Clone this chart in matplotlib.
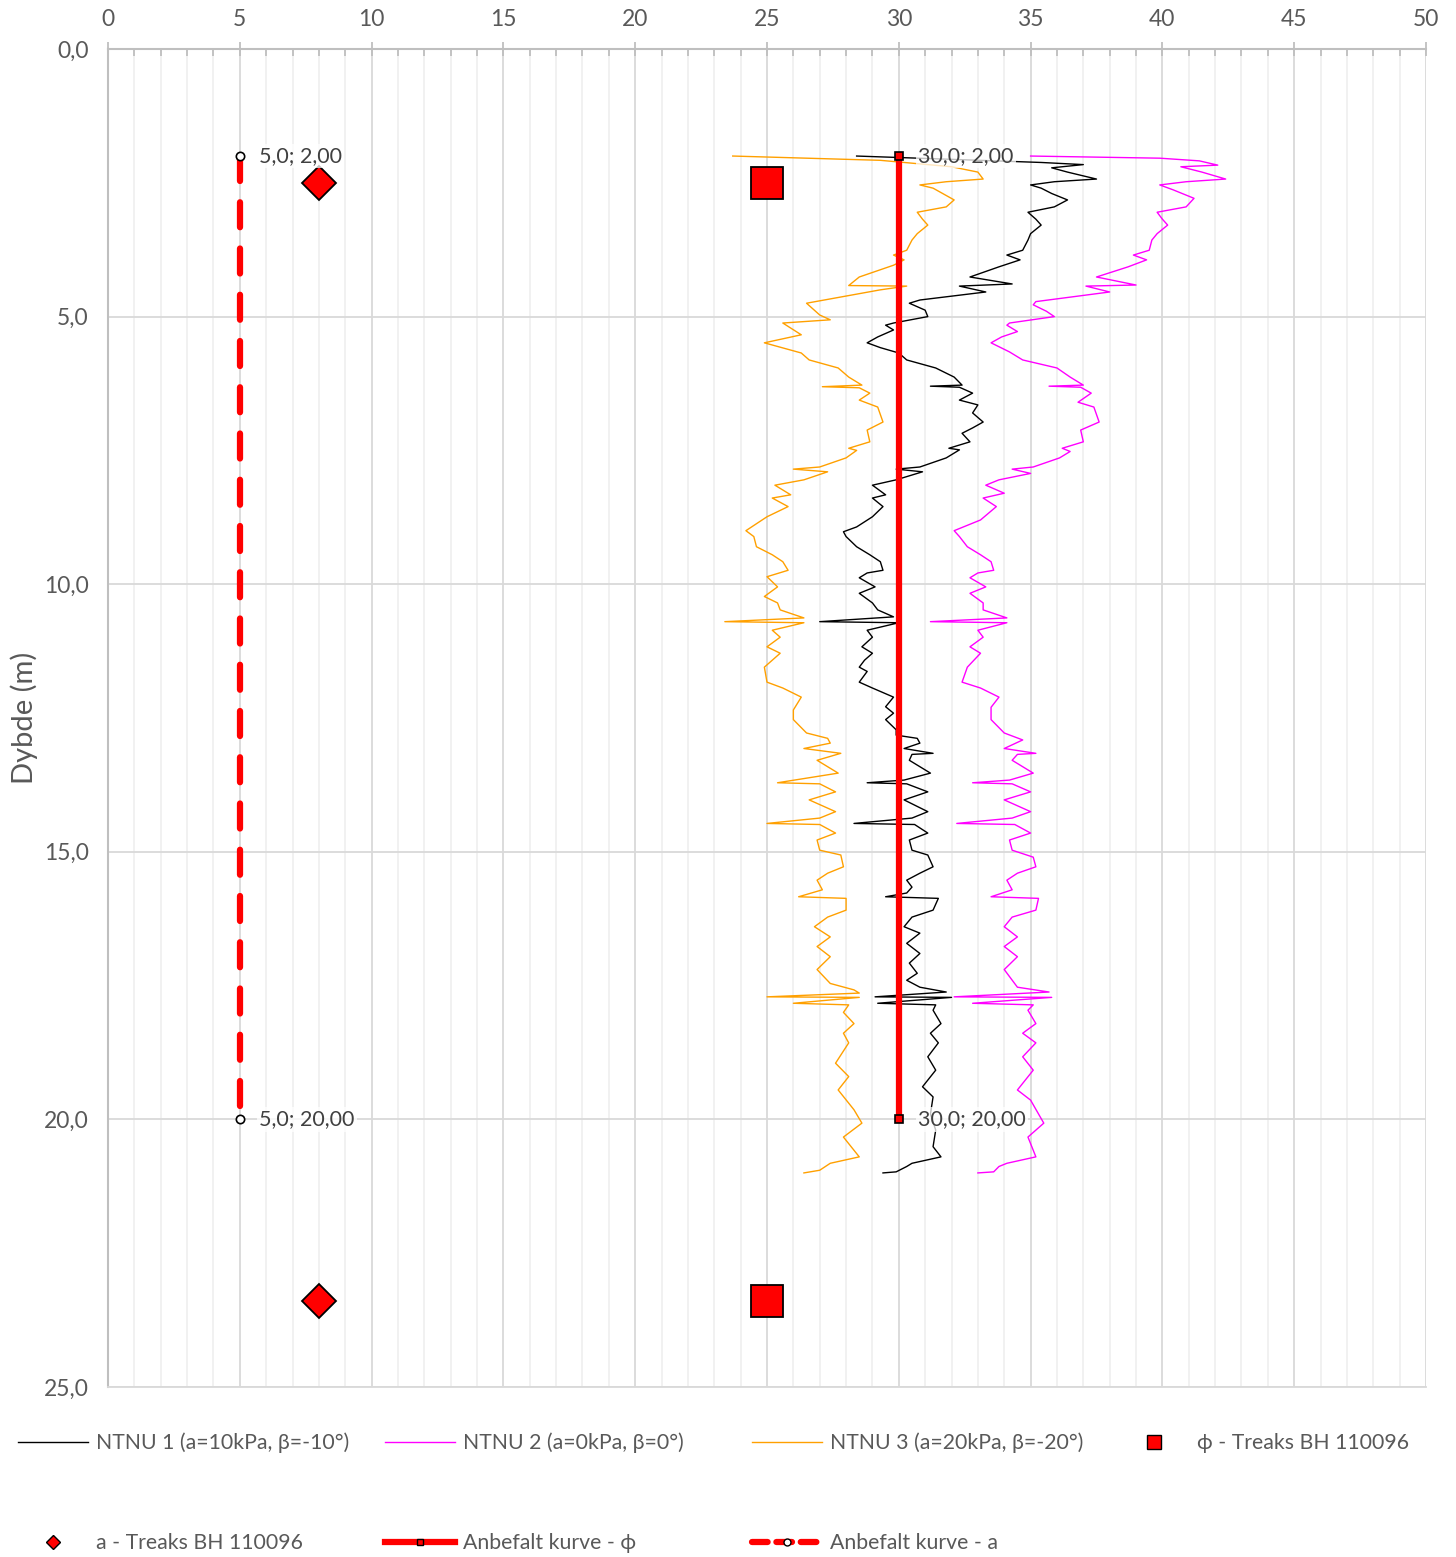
import matplotlib
matplotlib.use("Agg")
import matplotlib.pyplot as plt
from matplotlib.lines import Line2D
from matplotlib.ticker import MultipleLocator, FuncFormatter

plt.rcParams['font.family'] = ['Lato', 'DejaVu Sans']

# --- data ------------------------------------------------------------------
ntnu1_depth = [2.00, 2.12, 2.16, 2.22, 2.30, 2.43, 2.48, 2.54, 2.60, 2.70, 2.82, 2.95, 3.05, 3.18,
               3.29, 3.45, 3.57, 3.76, 3.85, 3.94, 4.07, 4.26, 4.39, 4.43, 4.54, 4.69, 4.75, 4.88,
               5.00, 5.12, 5.16, 5.25, 5.38, 5.49, 5.58, 5.68, 5.81, 5.96, 6.13, 6.28, 6.30, 6.32,
               6.43, 6.56, 6.65, 6.80, 6.97, 7.08, 7.18, 7.34, 7.46, 7.49, 7.64, 7.81, 7.85, 7.90,
               8.05, 8.15, 8.33, 8.39, 8.55, 8.74, 8.93, 9.02, 9.11, 9.30, 9.45, 9.58, 9.74, 9.79,
               9.88, 10.05, 10.17, 10.35, 10.48, 10.61, 10.70, 10.72, 10.86, 10.99, 11.17, 11.29,
               11.42, 11.55, 11.63, 11.83, 11.94, 12.11, 12.29, 12.41, 12.53, 12.72, 12.82, 12.88,
               12.97, 13.07, 13.16, 13.18, 13.29, 13.53, 13.66, 13.71, 13.73, 13.88, 14.03, 14.25,
               14.37, 14.47, 14.49, 14.65, 14.78, 14.97, 15.06, 15.28, 15.40, 15.53, 15.66, 15.77,
               15.84, 15.87, 16.09, 16.22, 16.40, 16.52, 16.71, 16.90, 17.08, 17.27, 17.40, 17.53,
               17.62, 17.71, 17.72, 17.83, 17.86, 17.96, 18.21, 18.39, 18.57, 18.83, 19.08, 19.39,
               19.58, 19.90, 20.20, 20.51, 20.70, 20.82, 20.88, 20.98, 21.00]
ntnu1_phi = [28.4, 35.4, 37.0, 35.8, 36.4, 37.5, 35.9, 35.0, 35.4, 35.8, 36.4, 35.9, 34.9, 35.2,
             35.4, 35.0, 34.9, 34.7, 34.1, 34.6, 33.8, 32.7, 34.3, 32.3, 33.3, 30.8, 30.4, 31.0,
             31.1, 29.8, 29.5, 29.8, 29.2, 28.8, 29.3, 30.0, 30.3, 31.4, 32.1, 32.4, 31.2, 32.3,
             32.8, 32.3, 33.0, 32.8, 33.2, 32.8, 32.4, 32.7, 31.9, 32.3, 31.8, 30.8, 29.9, 30.9,
             29.9, 29.0, 29.5, 29.0, 29.4, 29.0, 28.4, 27.9, 28.0, 28.4, 28.9, 29.3, 29.4, 28.8,
             28.5, 29.1, 28.5, 29.0, 29.2, 29.8, 27.0, 30.0, 28.8, 29.0, 28.6, 29.0,
             28.7, 28.5, 28.8, 28.5, 29.0, 29.8, 29.5, 29.8, 29.5, 29.9, 29.9, 30.7,
             30.8, 30.2, 31.3, 30.5, 30.4, 31.2, 30.2, 28.8, 30.3, 31.1, 30.2, 31.1,
             30.5, 28.3, 30.6, 31.1, 30.4, 30.5, 31.1, 31.3, 30.8, 30.3, 30.5, 30.3,
             29.5, 31.5, 31.3, 30.5, 30.2, 30.8, 30.3, 30.8, 30.4, 30.7, 30.3, 30.8,
             31.8, 29.1, 32.0, 29.2, 31.4, 31.3, 31.6, 31.2, 31.5, 31.1, 31.4, 30.9,
             31.3, 31.2, 31.4, 31.3, 31.6, 30.5, 30.3, 29.9, 29.4]

ntnu2_depth = [2.00, 2.04, 2.09, 2.17, 2.20, 2.30, 2.43, 2.48, 2.54, 2.63, 2.79, 2.95, 3.05, 3.18,
               3.29, 3.45, 3.57, 3.76, 3.85, 3.94, 4.07, 4.26, 4.41, 4.43, 4.54, 4.72, 4.78, 4.90,
               5.00, 5.12, 5.16, 5.28, 5.38, 5.49, 5.66, 5.81, 5.96, 6.13, 6.28, 6.30, 6.32, 6.43,
               6.60, 6.69, 6.97, 7.12, 7.34, 7.46, 7.52, 7.64, 7.81, 7.85, 7.93, 8.05, 8.15, 8.30,
               8.39, 8.55, 8.80, 9.00, 9.11, 9.30, 9.45, 9.58, 9.74, 9.79, 9.88, 10.05, 10.17,
               10.35, 10.48, 10.63, 10.70, 10.72, 10.86, 10.99, 11.17, 11.29, 11.55, 11.83, 11.94,
               12.11, 12.30, 12.53, 12.78, 12.91, 13.07, 13.16, 13.18, 13.29, 13.53, 13.66, 13.71,
               13.73, 13.88, 14.03, 14.25, 14.37, 14.47, 14.49, 14.65, 14.78, 14.97, 15.10, 15.28,
               15.40, 15.53, 15.71, 15.84, 15.87, 16.09, 16.22, 16.40, 16.59, 16.77, 16.96, 17.20,
               17.40, 17.53, 17.62, 17.71, 17.72, 17.83, 17.86, 17.96, 18.21, 18.39, 18.57, 18.83,
               19.08, 19.45, 19.64, 20.07, 20.33, 20.70, 20.82, 20.88, 20.98, 21.00]
ntnu2_phi = [35.0, 39.9, 41.4, 42.1, 40.7, 41.5, 42.4, 40.9, 39.9, 40.4, 41.2, 40.9, 39.8, 40.0,
             40.2, 39.8, 39.6, 39.5, 38.9, 39.4, 38.7, 37.5, 39.0, 37.1, 38.0, 35.2, 35.1, 35.6,
             35.9, 34.2, 34.1, 34.5, 33.9, 33.5, 34.2, 34.7, 36.0, 36.5, 37.0, 35.7, 36.9, 37.3,
             36.8, 37.4, 37.6, 36.9, 37.0, 36.2, 36.5, 36.1, 35.1, 34.3, 35.0, 33.8, 33.3, 34.0,
             33.2, 33.7, 33.1, 32.1, 32.3, 32.6, 33.1, 33.5, 33.6, 33.0, 32.7, 33.3, 32.7,
             33.2, 33.2, 34.1, 31.2, 34.1, 33.0, 33.2, 32.7, 33.1, 32.6, 32.4, 33.1,
             33.8, 33.5, 33.5, 34.0, 34.7, 34.0, 35.2, 34.5, 34.3, 35.1, 34.2, 32.8,
             34.3, 35.0, 34.0, 35.0, 34.3, 32.2, 34.4, 35.0, 34.2, 34.3, 35.1, 35.2,
             34.5, 34.1, 34.3, 33.5, 35.3, 35.2, 34.3, 34.0, 34.5, 34.0, 34.5, 34.0,
             34.3, 34.5, 35.7, 32.1, 35.8, 32.8, 35.1, 34.9, 35.2, 34.7, 35.2, 34.7,
             35.1, 34.5, 35.0, 35.5, 34.9, 35.2, 34.1, 33.8, 33.6, 33.0]

ntnu3_depth = [2.00, 2.08, 2.20, 2.30, 2.43, 2.48, 2.54, 2.60, 2.82, 2.95, 3.05, 3.18, 3.29, 3.45,
               3.57, 3.76, 3.85, 3.94, 4.04, 4.26, 4.42, 4.43, 4.50, 4.75, 4.97, 5.06, 5.12, 5.34,
               5.49, 5.68, 5.81, 5.96, 6.13, 6.28, 6.31, 6.33, 6.43, 6.56, 6.69, 6.97, 7.12, 7.34,
               7.46, 7.50, 7.64, 7.81, 7.85, 7.90, 8.05, 8.15, 8.33, 8.39, 8.55, 8.74, 9.00, 9.11,
               9.30, 9.45, 9.58, 9.74, 9.86, 10.05, 10.23, 10.35, 10.48, 10.63, 10.70, 10.72, 10.86,
               10.99, 11.17, 11.29, 11.55, 11.83, 11.94, 12.11, 12.35, 12.53, 12.78, 12.88, 12.97,
               13.07, 13.16, 13.29, 13.53, 13.71, 13.73, 13.88, 14.03, 14.25, 14.37, 14.47, 14.49,
               14.65, 14.78, 14.97, 15.06, 15.28, 15.40, 15.53, 15.71, 15.84, 15.87, 16.09, 16.22,
               16.40, 16.59, 16.77, 16.96, 17.20, 17.46, 17.58, 17.64, 17.71, 17.72, 17.83, 17.86,
               18.00, 18.21, 18.39, 18.57, 18.95, 19.20, 19.45, 19.82, 20.07, 20.33, 20.70, 20.82,
               20.95, 21.00]
ntnu3_phi = [23.7, 29.3, 32.0, 33.0, 33.2, 31.8, 30.8, 31.3, 32.1, 31.8, 30.7, 30.9, 31.1, 30.7,
             30.5, 30.3, 29.8, 30.2, 29.8, 28.5, 28.1, 30.3, 29.3, 26.5, 27.0, 27.4, 25.6, 26.3,
             24.9, 26.3, 26.6, 27.7, 28.1, 28.6, 27.1, 28.5, 28.9, 28.5, 29.2, 29.4, 28.8, 28.9,
             28.1, 28.4, 28.0, 27.0, 26.0, 27.3, 26.4, 25.3, 25.9, 25.2, 25.8, 25.0, 24.2, 24.5,
             24.6, 25.2, 25.6, 25.8, 25.0, 25.4, 24.9, 25.4, 25.5, 26.4, 23.4, 26.4, 25.2,
             25.5, 25.0, 25.5, 24.9, 25.0, 25.6, 26.3, 26.0, 26.0, 26.5, 27.3, 27.4,
             26.4, 27.8, 26.9, 27.7, 25.4, 27.0, 27.6, 26.6, 27.6, 27.0, 25.0, 27.0,
             27.6, 26.9, 27.0, 27.8, 27.9, 27.3, 26.9, 27.1, 26.2, 28.0, 28.0, 27.3,
             26.8, 27.4, 26.9, 27.4, 26.9, 27.4, 28.3, 28.5, 25.0, 28.5, 26.0, 28.1,
             27.9, 28.3, 27.9, 28.1, 27.6, 28.1, 27.7, 28.3, 28.6, 27.9, 28.5, 27.4,
             27.0, 26.4]

treaks_depth = [2.5, 23.4]
treaks_phi = [25.0, 25.0]
treaks_a = [8.0, 8.0]

anbefalt_depth = [2.0, 20.0]
anbefalt_phi = [30.0, 30.0]
anbefalt_a = [5.0, 5.0]

labels = ["NTNU 1 (a=10kPa, β=-10°)", "NTNU 2 (a=0kPa, β=0°)", "NTNU 3 (a=20kPa, β=-20°)",
          "ϕ - Treaks BH 110096", "a - Treaks BH 110096", "Anbefalt kurve - ϕ", "Anbefalt kurve - a"]

# --- figure ------------------------------------------------------------------
txt = '#595959'
fig = plt.figure(figsize=(14.56, 15.57), dpi=100)
ax = fig.add_axes([108 / 1456, 1 - 1387 / 1557, 1318 / 1456, 1338 / 1557])

ax.plot(ntnu1_phi, ntnu1_depth, color='black', lw=1.0, zorder=3)
ax.plot(ntnu2_phi, ntnu2_depth, color='#ff00ff', lw=1.0, zorder=3)
ax.plot(ntnu3_phi, ntnu3_depth, color='#ffa000', lw=1.0, zorder=3)
ax.plot(treaks_phi, treaks_depth, ls='none', marker='s', ms=23, mfc='red', mec='black', mew=1.3, zorder=4)
ax.plot(treaks_a, treaks_depth, ls='none', marker='D', ms=17, mfc='red', mec='black', mew=1.3, zorder=4)
ax.plot(anbefalt_phi, anbefalt_depth, color='red', lw=4.5, marker='s', ms=6,
        mfc='red', mec='black', mew=1.2, zorder=5)
ax.plot(anbefalt_a, anbefalt_depth, color='red', lw=4.5, ls=(0, (4.0, 3.4)), dash_capstyle='round',
        marker='o', ms=6, mfc='white', mec='black', mew=1.2, zorder=5)

# data labels
for xs, ds in [(anbefalt_a, anbefalt_depth), (anbefalt_phi, anbefalt_depth)]:
    for xv, dv in zip(xs, ds):
        s = f"{xv:.1f}; {dv:.2f}".replace('.', ',')
        ax.annotate(s, (xv, dv), xytext=(14, 0), textcoords='offset points', va='center', ha='left',
                    fontsize=15.5, color='#404040', zorder=6,
                    bbox=dict(boxstyle='square,pad=0.1', fc='white', ec='none', alpha=0.75))

ax.set_xlim(0, 50)
ax.set_ylim(25, 0)
ax.xaxis.set_major_locator(MultipleLocator(5))
ax.xaxis.set_minor_locator(MultipleLocator(1))
ax.yaxis.set_major_locator(MultipleLocator(5))
ax.yaxis.set_major_formatter(FuncFormatter(lambda v, p: f"{v:.1f}".replace('.', ',')))
ax.xaxis.tick_top()
ax.tick_params(axis='x', which='major', direction='inout', length=10, width=1.3, color='#bfbfbf',
               labelsize=16.5, labelcolor=txt, pad=9)
ax.tick_params(axis='x', which='minor', direction='in', length=5, width=1.3, color='#bfbfbf')
ax.tick_params(axis='y', length=0, labelsize=16.5, labelcolor=txt, pad=14)
ax.grid(which='major', color='#d9d9d9', lw=1.3, zorder=0)
ax.grid(which='minor', axis='x', color='#f0f0f0', lw=1.3, zorder=0)
ax.set_axisbelow(True)
for side in ['top', 'left']:
    ax.spines[side].set_color('#bfbfbf')
    ax.spines[side].set_linewidth(1.5)
ax.spines['bottom'].set_color('#d9d9d9')
ax.spines['bottom'].set_linewidth(1.3)
ax.spines['right'].set_visible(False)
ax.set_ylabel("Dybde (m)", fontsize=21, color=txt, labelpad=4)

# legend, one entry per slot like the Excel layout
handles = [
    Line2D([], [], color='black', lw=1.0),
    Line2D([], [], color='#ff00ff', lw=1.0),
    Line2D([], [], color='#ffa000', lw=1.0),
    Line2D([], [], ls='none', marker='s', ms=10, mfc='red', mec='black', mew=1.0),
    Line2D([], [], ls='none', marker='D', ms=7, mfc='red', mec='black', mew=1.0),
    Line2D([], [], color='red', lw=4.5, marker='s', ms=5, mfc='red', mec='black', mew=1.0),
    Line2D([], [], color='red', lw=4.5, ls=(0, (2.5, 1.4)), dash_capstyle='round',
           marker='o', ms=5, mfc='white', mec='black', mew=1.0),
]
slots = [(18, 1443), (385, 1443), (752, 1443), (1119, 1443), (18, 1543), (385, 1543), (752, 1543)]
for h, lab, (px, py) in zip(handles, labels, slots):
    fig.legend([h], [lab], loc='center left', bbox_to_anchor=(px / 1456, 1 - py / 1557),
               frameon=False, fontsize=15.3, labelcolor=txt, handlelength=3.3, handletextpad=0.35,
               borderpad=0, borderaxespad=0)

fig.savefig("out.png", dpi=100)
